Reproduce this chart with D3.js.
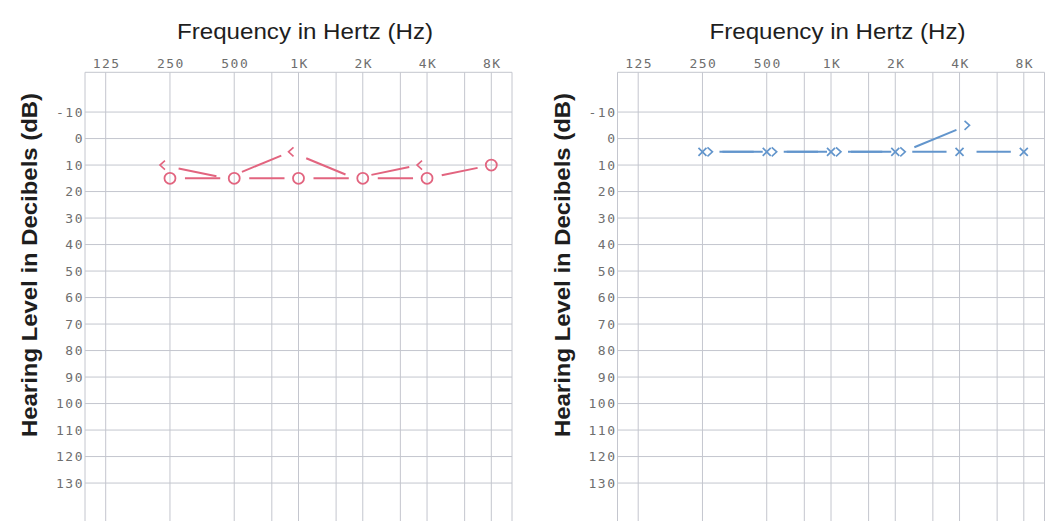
<!DOCTYPE html>
<html lang="en">
<head>
    <meta charset="UTF-8">
    <title>Audiogram</title>
    <script src="https://d3js.org/d3.v7.min.js"></script>
    <style>
        body { margin: 0; background: #fff; }
        .grid line { stroke: #c4c6ce; stroke-width: 1px; }
        .tick-label { fill: #6e6e6e; font-family: "DejaVu Sans Mono", monospace; font-size: 13px; letter-spacing: 1.5px; }
        .title { fill: #1e1e1e; font-family: "Liberation Sans", Arial, sans-serif; }
    </style>
</head>
<body>
<div id="chart"></div>
<script>
    // frequencies and tick labels
    const tickFreqs = [125, 250, 500, 1000, 2000, 4000, 8000];
    const tickLabels = ["125", "250", "500", "1K", "2K", "4K", "8K"];
    const minorFreqs = [750, 1500, 3000, 6000];
    const dbTicks = [-10, 0, 10, 20, 30, 40, 50, 60, 70, 80, 90, 100, 110, 120, 130];

    // measured thresholds (dB HL)
    const airFreqs = [250, 500, 1000, 2000, 4000, 8000];
    const boneFreqs = [250, 500, 1000, 2000, 4000];
    const rightAir = [15, 15, 15, 15, 15, 10];
    const rightBone = [10, 15, 5, 15, 10];
    const rightBoneSymbol = [true, false, true, false, true]; // hidden under the O where equal
    const leftAir = [5, 5, 5, 5, 5, 5];
    const leftBone = [5, 5, 5, 5, -5];

    const width = 1062, height = 521;
    const svg = d3.select("#chart").append("svg")
        .attr("width", width)
        .attr("height", height);

    const plotW = 427;
    const x = d3.scaleLog().domain([100, 10000]).range([0, plotW]);
    const y = d3.scaleLinear().domain([-25, 145]).range([72.3, 522.8]);

    function segments(g, pts, color, gap0, gap1) {
        for (let i = 0; i < pts.length - 1; i++) {
            const [x0, y0] = pts[i], [x1, y1] = pts[i + 1];
            const len = Math.hypot(x1 - x0, y1 - y0);
            const ux = (x1 - x0) / len, uy = (y1 - y0) / len;
            g.append("line")
                .attr("x1", x0 + ux * gap0).attr("y1", y0 + uy * gap0)
                .attr("x2", x1 - ux * gap1).attr("y2", y1 - uy * gap1)
                .attr("stroke", color).attr("stroke-width", 2);
        }
    }

    function drawPanel(x0, ear) {
        const g = svg.append("g").attr("transform", `translate(${x0},0)`);

        g.append("text").attr("class", "title")
            .attr("x", 220).attr("y", 38.5)
            .attr("text-anchor", "middle")
            .attr("font-size", 22)
            .attr("textLength", 256).attr("lengthAdjust", "spacingAndGlyphs")
            .text("Frequency in Hertz (Hz)");

        g.append("text").attr("class", "title")
            .attr("transform", "translate(-48,265) rotate(-90)")
            .attr("text-anchor", "middle")
            .attr("font-size", 22).attr("font-weight", "bold")
            .attr("textLength", 344).attr("lengthAdjust", "spacingAndGlyphs")
            .text("Hearing Level in Decibels (dB)");

        const grid = g.append("g").attr("class", "grid");
        grid.selectAll(".v").data(tickFreqs.concat(minorFreqs)).enter().append("line")
            .attr("x1", d => x(d)).attr("x2", d => x(d))
            .attr("y1", y(-25)).attr("y2", height);
        grid.selectAll(".h").data(dbTicks).enter().append("line")
            .attr("x1", 0).attr("x2", plotW)
            .attr("y1", d => y(d)).attr("y2", d => y(d));
        grid.append("line").attr("x1", 0).attr("x2", 0).attr("y1", y(-25)).attr("y2", height);
        grid.append("line").attr("x1", plotW).attr("x2", plotW).attr("y1", y(-25)).attr("y2", height);
        grid.append("line").attr("x1", 0).attr("x2", plotW).attr("y1", y(-25)).attr("y2", y(-25));

        g.selectAll(".xl").data(tickFreqs).enter().append("text")
            .attr("class", "tick-label")
            .attr("x", d => x(d) + 1).attr("y", 67.5)
            .attr("text-anchor", "middle")
            .text((d, i) => tickLabels[i]);

        g.selectAll(".yl").data(dbTicks).enter().append("text")
            .attr("class", "tick-label")
            .attr("x", -1).attr("y", d => y(d))
            .attr("text-anchor", "end")
            .attr("dominant-baseline", "central")
            .text(d => d);

        const marks = g.append("g").attr("fill", "none");

        if (ear === "right") {
            const color = "#e2647f";
            const air = airFreqs.map((f, i) => [x(f), y(rightAir[i])]);
            const bone = boneFreqs.map((f, i) => [x(f) - 8, y(rightBone[i])]);
            segments(marks, air, color, 15, 14);
            segments(marks, bone, color, 17, 10);
            air.forEach(p => marks.append("circle")
                .attr("cx", p[0]).attr("cy", p[1]).attr("r", 5.5)
                .attr("stroke", color).attr("stroke-width", 1.8));
            bone.forEach((p, i) => {
                if (!rightBoneSymbol[i]) return;
                marks.append("path")
                    .attr("d", `M${p[0] + 3},${p[1] - 4.5}L${p[0] - 2},${p[1]}L${p[0] + 3},${p[1] + 4.5}`)
                    .attr("stroke", color).attr("stroke-width", 1.6);
            });
        } else {
            const color = "#6295cc";
            const air = airFreqs.map((f, i) => [x(f), y(leftAir[i])]);
            const bone = boneFreqs.map((f, i) => [x(f) + 8, y(leftBone[i])]);
            segments(marks, air, color, 17, 13);
            segments(marks, bone, color, 12, 12);
            air.forEach(p => marks.append("path")
                .attr("d", `M${p[0] - 4},${p[1] - 4}L${p[0] + 4},${p[1] + 4}M${p[0] - 4},${p[1] + 4}L${p[0] + 4},${p[1] - 4}`)
                .attr("stroke", color).attr("stroke-width", 1.7));
            bone.forEach(p => marks.append("path")
                .attr("d", `M${p[0] - 3},${p[1] - 4.5}L${p[0] + 2},${p[1]}L${p[0] - 3},${p[1] + 4.5}`)
                .attr("stroke", color).attr("stroke-width", 1.6));
        }
    }

    drawPanel(85, "right");
    drawPanel(617.5, "left");
</script>
</body>
</html>
